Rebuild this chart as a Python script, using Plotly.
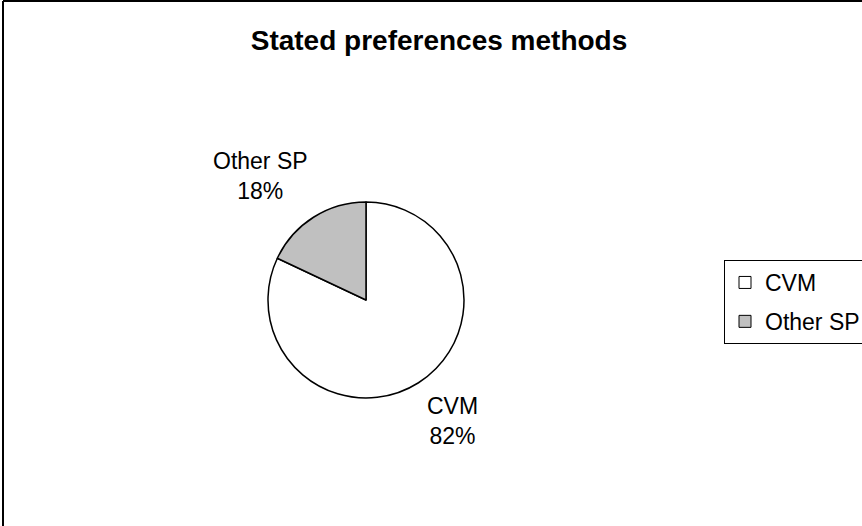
import plotly.graph_objects as go

# data
labels = ['CVM', 'Other SP']
shares = [82, 18]
colors = ['#ffffff', '#c0c0c0']

W, H = 862, 526
FONT = 'Liberation Sans, Arial'

# pie position in pixels
cx, cy, r = 366, 300, 98

fig = go.Figure()
fig.add_trace(go.Pie(
    labels=labels,
    values=shares,
    sort=False,
    direction='clockwise',
    rotation=0,
    textinfo='none',
    hoverinfo='label+percent',
    showlegend=False,
    marker=dict(colors=colors, line=dict(color='black', width=1.5)),
    domain=dict(x=[(cx - r) / W, (cx + r) / W],
                y=[1 - (cy + r) / H, 1 - (cy - r) / H]),
))

# legend entries (square swatches like the original)
for lab, col in zip(labels, colors):
    fig.add_trace(go.Scatter(
        x=[None], y=[None], mode='markers', name=lab, legendgroup=lab,
        marker=dict(symbol='square', size=12, color=col, line=dict(color='black', width=1)),
    ))

# data labels placed outside the slices
label_pos = {'CVM': (452, 421), 'Other SP': (260, 176)}
annotations = []
for lab, val in zip(labels, shares):
    px_, py_ = label_pos[lab]
    annotations.append(dict(
        x=px_ / W, y=1 - py_ / H, xref='paper', yref='paper',
        text=f'{lab}<br>{val}%', showarrow=False,
        font=dict(family=FONT, size=23, color='black'),
        align='center', xanchor='center', yanchor='middle',
    ))

# chart frame (right and bottom edges are outside the picture)
shapes = [
    dict(type='line', xref='paper', yref='paper', x0=3 / W, x1=1.2, y0=1 - 1 / H, y1=1 - 1 / H,
         line=dict(color='black', width=2)),
    dict(type='line', xref='paper', yref='paper', x0=3 / W, x1=3 / W, y0=-0.1, y1=1 - 1 / H,
         line=dict(color='black', width=2)),
]

fig.update_layout(
    width=W, height=H,
    margin=dict(l=0, r=0, t=0, b=0, autoexpand=False),
    paper_bgcolor='white', plot_bgcolor='white',
    xaxis=dict(visible=False), yaxis=dict(visible=False),
    title=dict(text='<b>Stated preferences methods</b>', x=439 / W, xanchor='center',
               y=1 - 40 / H, yanchor='middle',
               font=dict(family=FONT, size=28, color='black')),
    showlegend=True,
    legend=dict(x=724 / W, y=1 - 260 / H, xanchor='left', yanchor='top',
                bordercolor='black', borderwidth=1, bgcolor='white',
                font=dict(family=FONT, size=23, color='black'),
                tracegroupgap=6, itemwidth=30),
    annotations=annotations,
    shapes=shapes,
)

fig.write_html('out.html', config={'displayModeBar': False},
               post_script="document.body.style.margin='0px';")
